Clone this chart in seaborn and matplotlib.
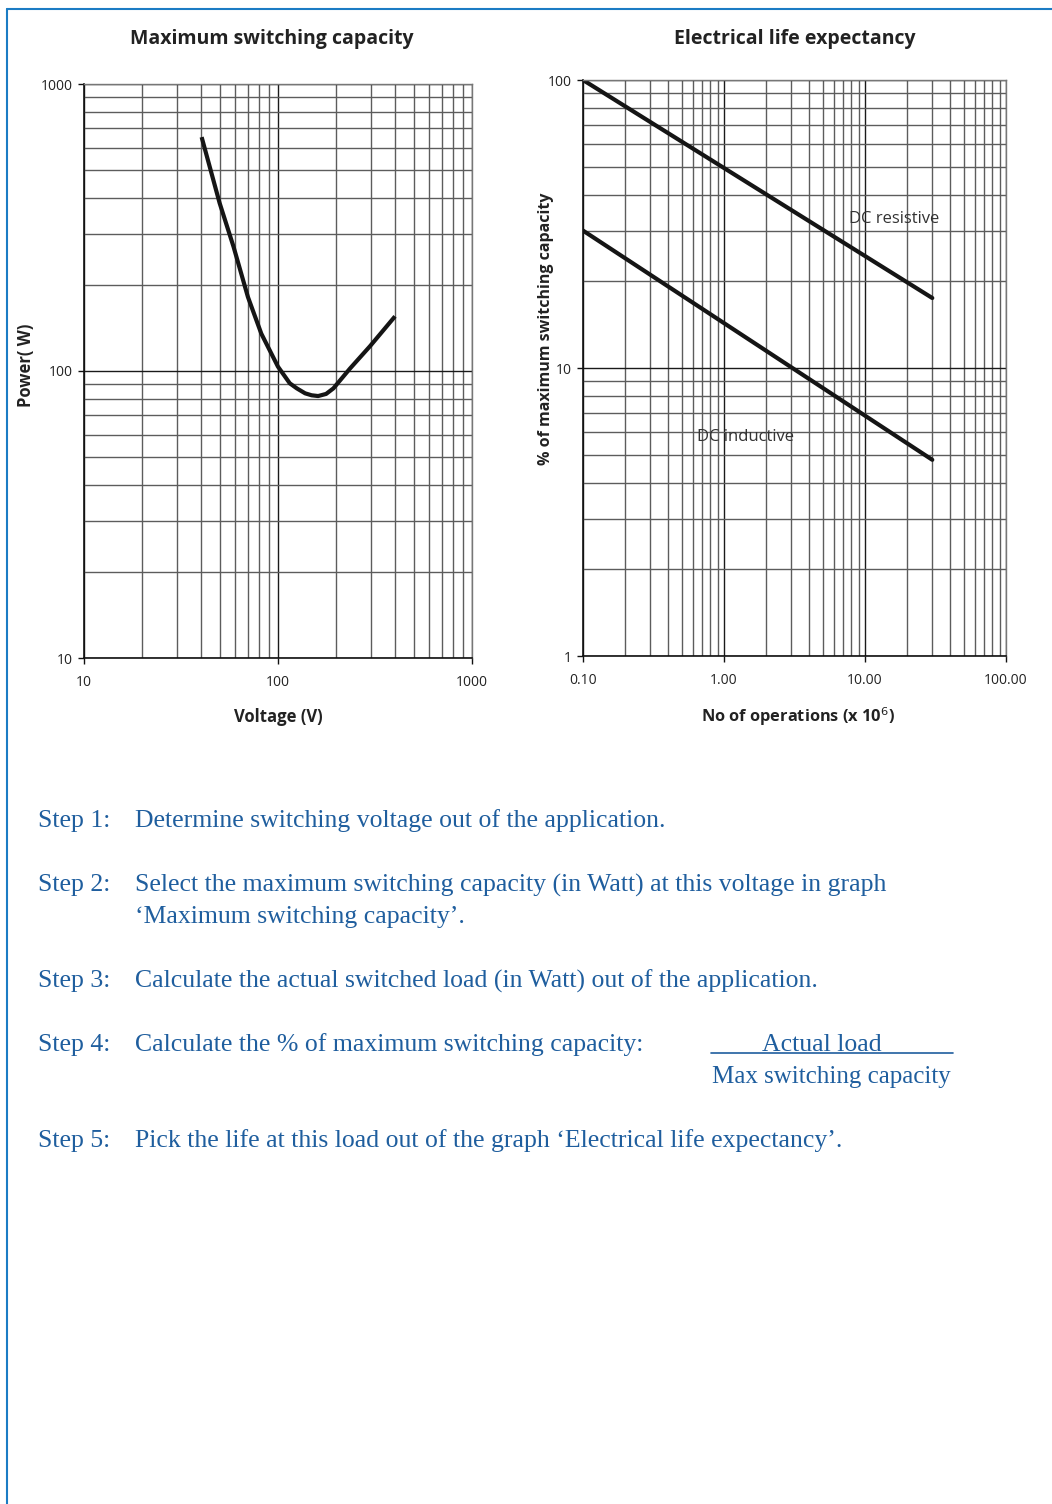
import matplotlib

matplotlib.use("Agg")

import matplotlib.pyplot as plt
import matplotlib.ticker as mticker
from matplotlib.lines import Line2D
import seaborn as sns
import pandas as pd

# ------------------------------------------------------------
# data
# ------------------------------------------------------------
voltage = [40.4, 50, 59, 70, 82, 100, 115, 125, 138, 149, 161, 177, 193, 235, 298, 401]
power = [653, 385, 271, 181, 135, 103.5, 90.6, 87, 83.6, 82.3, 81.8, 83.2, 87, 102, 122, 155]

operations = [0.1, 30]
dc_resistive = [100, 17.5]
dc_inductive = [30, 4.8]

left_yticks = [10, 100, 1000]
left_xticks = [10, 100, 1000]
right_yticks = [1, 10, 100]
right_xticks = [0.1, 1, 10, 100]

steps = [
    ("Step 1:", ["Determine switching voltage out of the application."]),
    ("Step 2:", ["Select the maximum switching capacity (in Watt) at this voltage in graph",
                 "\u2018Maximum switching capacity\u2019."]),
    ("Step 3:", ["Calculate the actual switched load (in Watt) out of the application."]),
    ("Step 4:", ["Calculate the % of maximum switching capacity:"]),
    ("Step 5:", ["Pick the life at this load out of the graph \u2018Electrical life expectancy\u2019."]),
]
step_y = [821, 885, 981, 1045, 1141]

BLUE = "#1f5e9e"
FRAME = "#1b7cc4"
W, H = 1052, 1504

sns.set_style("white")
plt.rcParams["font.family"] = ["Open Sans", "DejaVu Sans"]

fig = plt.figure(figsize=(W / 100, H / 100), dpi=100)


def fx(px):
    return px / W


def fy(py):
    return 1 - py / H


def style_log_axes(ax):
    ax.set_xscale("log")
    ax.set_yscale("log")
    ax.grid(True, which="major", color="#1a1a1a", linewidth=1.0)
    ax.grid(True, which="minor", color="#5c5c5c", linewidth=1.0)
    ax.set_axisbelow(True)
    for side in ["left", "bottom"]:
        ax.spines[side].set_color("#111111")
        ax.spines[side].set_linewidth(1.2)
    for side in ["right", "top"]:
        ax.spines[side].set_color("#777777")
        ax.spines[side].set_linewidth(1.0)
    ax.tick_params(which="major", direction="out", length=4, width=1.0,
                   color="#111111", labelsize=10, labelcolor="#222222",
                   left=True, bottom=True)
    ax.tick_params(axis="x", which="major", pad=8)
    ax.tick_params(axis="y", which="major", pad=4)
    ax.tick_params(which="minor", length=0)


# ============================================================
# LEFT: maximum switching capacity
# ============================================================
ax1 = fig.add_axes([fx(84), fy(658), fx(472) - fx(84), fy(84) - fy(658)])
style_log_axes(ax1)
df_cap = pd.DataFrame({"Voltage": voltage, "Power": power})
sns.lineplot(data=df_cap, x="Voltage", y="Power", ax=ax1, color="#151515",
             linewidth=3.0, sort=False, estimator=None,
             solid_joinstyle="round", solid_capstyle="butt")
ax1.set_xlim(10, 1000)
ax1.set_ylim(10, 1000)
ax1.set_xticks(left_xticks)
ax1.set_yticks(left_yticks)
ax1.xaxis.set_major_formatter(mticker.FuncFormatter(lambda v, p: f"{v:.0f}"))
ax1.yaxis.set_major_formatter(mticker.FuncFormatter(lambda v, p: f"{v:.0f}"))
ax1.set_xlabel("Voltage (V)", fontsize=12, fontweight="bold", color="#222222")
ax1.set_ylabel("Power( W)", fontsize=12, fontweight="bold", color="#222222")
ax1.xaxis.set_label_coords(0.5, -0.087)
ax1.yaxis.set_label_coords(-0.126, 0.51)

# ============================================================
# RIGHT: electrical life expectancy
# ============================================================
ax2 = fig.add_axes([fx(583), fy(656), fx(1006) - fx(583), fy(80) - fy(656)])
style_log_axes(ax2)
df_life = pd.DataFrame({
    "Operations": operations + operations,
    "Percent": dc_resistive + dc_inductive,
    "Load": ["DC resistive"] * 2 + ["DC inductive"] * 2,
})
sns.lineplot(data=df_life, x="Operations", y="Percent", units="Load",
             estimator=None, ax=ax2, color="#151515", linewidth=3.0, legend=False)
ax2.set_xlim(0.1, 100)
ax2.set_ylim(1, 100)
ax2.set_xticks(right_xticks)
ax2.set_yticks(right_yticks)
ax2.xaxis.set_major_formatter(mticker.FuncFormatter(lambda v, p: f"{v:.2f}"))
ax2.yaxis.set_major_formatter(mticker.FuncFormatter(lambda v, p: f"{v:.0f}"))
ax2.set_xlabel("No of operations (x 10$^{6}$)", fontsize=11.8, fontweight="bold",
               color="#222222")
ax2.set_ylabel("% of maximum switching capacity", fontsize=11.5, fontweight="bold",
               color="#222222")
ax2.xaxis.set_label_coords(0.508, -0.085)
ax2.yaxis.set_label_coords(-0.069, 0.569)
ax2.text(7.7, 32.9, "DC resistive", fontsize=12, color="#333333",
         ha="left", va="center")
ax2.text(0.644, 5.75, "DC inductive", fontsize=12, color="#333333",
         ha="left", va="center")

# titles
fig.text(fx(272), fy(39), "Maximum switching capacity", fontsize=14,
         fontweight="bold", color="#222222", ha="center", va="center")
fig.text(fx(795), fy(39), "Electrical life expectancy", fontsize=14,
         fontweight="bold", color="#222222", ha="center", va="center")

# ============================================================
# STEP TEXT
# ============================================================
serif = ["Liberation Serif", "DejaVu Serif"]
FS = 18.5
for (label, lines), y0 in zip(steps, step_y):
    fig.text(fx(38), fy(y0), label, fontsize=FS, family=serif, color=BLUE,
             ha="left", va="center")
    for i, line in enumerate(lines):
        fig.text(fx(135), fy(y0 + 32 * i), line, fontsize=FS, family=serif,
                 color=BLUE, ha="left", va="center")

# fraction in step 4
fig.text(fx(822), fy(1045), "Actual load", fontsize=FS, family=serif,
         color=BLUE, ha="center", va="center")
fig.add_artist(Line2D([fx(711), fx(953)], [fy(1053), fy(1053)], color=BLUE,
                      linewidth=1.2))
fig.text(fx(831), fy(1077), "Max switching capacity", fontsize=18, family=serif,
         color=BLUE, ha="center", va="center")

# page frame
fig.add_artist(Line2D([fx(7), fx(7)], [fy(9), 0], color=FRAME, linewidth=1.5))
fig.add_artist(Line2D([fx(7), 1], [fy(9), fy(9)], color=FRAME, linewidth=1.5))

fig.savefig("out.png", dpi=100)
plt.close(fig)
